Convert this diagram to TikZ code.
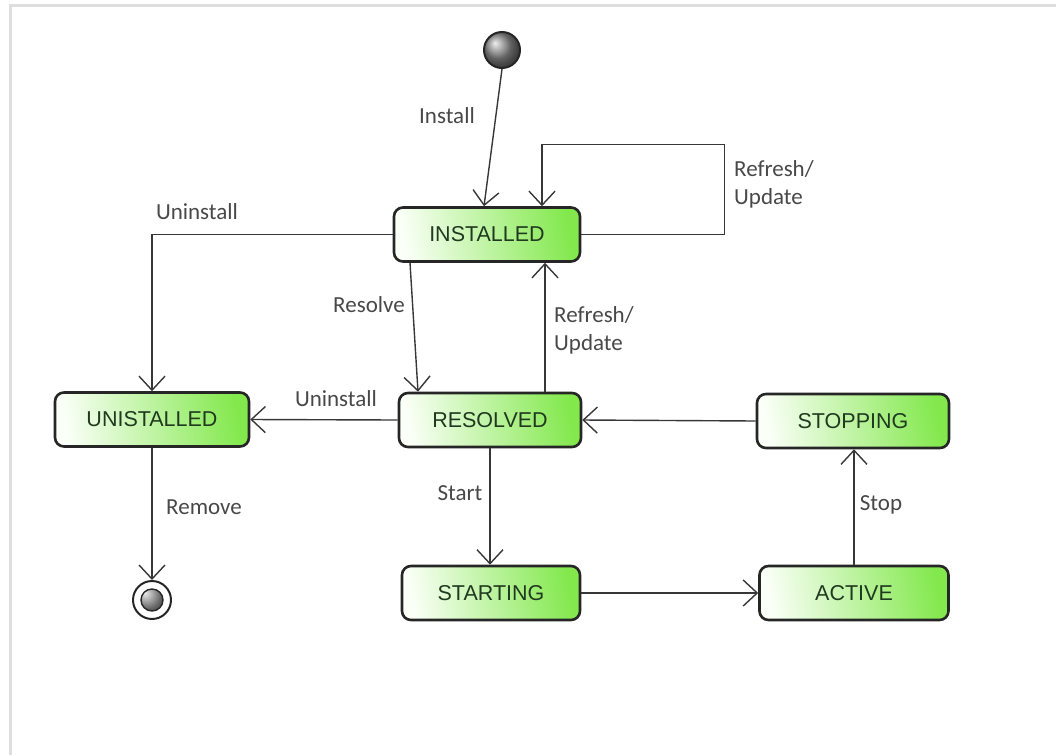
\documentclass[tikz,border=0pt]{standalone}
\usepackage{fontspec}
\setmainfont{Liberation Sans}
\newfontfamily\labelfont{Carlito}
\usetikzlibrary{arrows.meta,shadings}

\definecolor{stategreen}{RGB}{130,232,76}
\definecolor{statelight}{RGB}{250,255,247}
\definecolor{edgegray}{RGB}{55,55,55}
\definecolor{textdark}{RGB}{32,58,32}
\definecolor{labelgray}{RGB}{72,72,72}
\definecolor{framegray}{RGB}{222,222,222}

\begin{document}
\begin{tikzpicture}[x=1pt,y=-1pt,
  state/.style={draw=black!85, line width=2.6pt, rounded corners=9pt,
    left color=statelight, right color=stategreen, shading angle=100,
    minimum height=54pt, inner sep=0pt, text=textdark,
    font=\fontsize{21.5}{24}\selectfont},
  trans/.style={draw=edgegray, line width=1.4pt,
    -{Straight Barb[length=14pt,width=26pt,line width=1.4pt]}},
  lbl/.style={font=\labelfont\fontsize{23}{28}\selectfont, text=labelgray,
    inner sep=0pt, align=left}]

  % canvas and the thin frame along the top and left edges
  \useasboundingbox (0,0) rectangle (1056,755);
  \draw[framegray, line width=2.5pt] (10.5,755) -- (10.5,5.5) -- (1056,5.5);

  % pseudo-states
  \node[circle, draw=black!85, line width=2pt, minimum size=36pt,
        ball color=black!45, inner sep=0pt] (init) at (502,50) {};
  \node[circle, draw=black!85, line width=2pt, minimum size=38pt,
        fill=white, inner sep=0pt,
        path picture={\shade[ball color=black!45]
          (path picture bounding box.center) circle (11pt);
          \draw[black!85, line width=1.4pt]
          (path picture bounding box.center) circle (11pt);}] (final) at (152,600) {};

  % states
  \node[state, minimum width=186pt] (installed)  at (487,234.5) {INSTALLED};
  \node[state, minimum width=194pt] (unistalled) at (152,419.5) {UNISTALLED};
  \node[state, minimum width=182pt] (resolved)   at (490,420)   {RESOLVED};
  \node[state, minimum width=192pt] (stopping)   at (853,421)   {STOPPING};
  \node[state, minimum width=178pt] (starting)   at (491,593)   {STARTING};
  \node[state, minimum width=189pt] (active)     at (854,593)   {ACTIVE};

  % transitions
  \draw[trans] (init.south) -- ([xshift=-3pt]installed.north);
  \draw[trans] (installed.east) -- ++(143,0) -- ++(0,-90)
               -| ([xshift=55pt]installed.north);
  \draw[trans] (installed.west) -| (unistalled.north);
  \draw[trans] ([xshift=-77pt]installed.south) -- ([xshift=-72pt]resolved.north);
  \draw[trans] ([xshift=55pt]resolved.north) -- ([xshift=58pt]installed.south);
  \draw[trans] (resolved.west) -- (unistalled.east);
  \draw[trans] (unistalled.south) -- (final.north);
  \draw[trans] (resolved.south) -- (resolved.south |- starting.north);
  \draw[trans] (starting.east) -- (active.west);
  \draw[trans] (active.north) -- (active.north |- stopping.south);
  \draw[trans] (stopping.west) -- (resolved.east);

  % transition labels
  \node[lbl] (lInstall)   at (447,116) {Install};
  \node[lbl, anchor=west] (lRefreshTop) at (734,184) {Refresh/\\Update};
  \node[lbl] (lUninstTop) at (197,212) {Uninstall};
  \node[lbl] (lResolve)   at (369,305) {Resolve};
  \node[lbl, anchor=west] (lRefreshMid) at (554,330) {Refresh/\\Update};
  \node[lbl] (lUninstMid) at (336,399) {Uninstall};
  \node[lbl] (lRemove)    at (204,507) {Remove};
  \node[lbl] (lStart)     at (460,493) {Start};
  \node[lbl] (lStop)      at (881,505) {Stop};
\end{tikzpicture}
\end{document}
